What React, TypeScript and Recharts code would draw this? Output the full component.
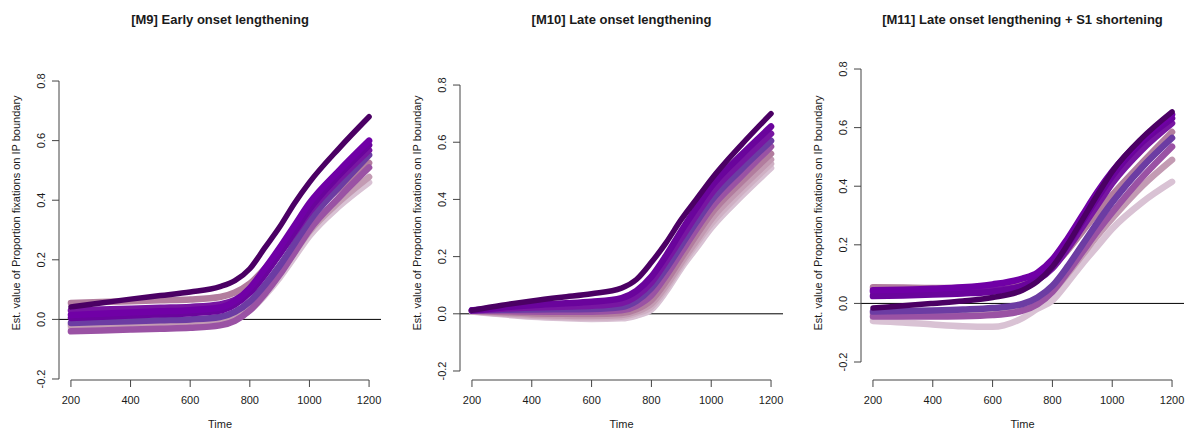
import React from "react";
import { LineChart, Line, XAxis, YAxis, ReferenceLine } from "recharts";

// ---------- data ----------
const TIMES = [200, 300, 400, 500, 600, 700, 750, 800, 850, 900, 950, 1000, 1100, 1200];
const X_TICKS = [200, 400, 600, 800, 1000, 1200];
const Y_TICKS = [-0.2, 0, 0.2, 0.4, 0.6, 0.8];

const TITLES = [
  "[M9] Early onset lengthening",
  "[M10] Late onset lengthening",
  "[M11] Late onset lengthening + S1 shortening",
];
const X_LABEL = "Time";
const Y_LABEL = "Est. value of Proportion fixations on IP boundary";

// palette (light -> dark)
const C_LIGHT = "#d9c2d4";
const C_PINK2 = "#cfb0c4";
const C_PINK = "#c39bb3";
const C_MAUVE = "#b27d9e";
const C_ORCHID = "#9a52a4";
const C_BLUEVIOLET = "#6c3ca3";
const C_VIOLET = "#7816a2";
const C_PURPLE = "#6a049c";
const C_BRIGHT = "#7000a6";
const C_DARK = "#4b0064";

// [M9]
const m9Light = [-0.028, -0.025, -0.022, -0.02, -0.018, -0.012, 0.002, 0.03, 0.08, 0.14, 0.21, 0.28, 0.38, 0.46];
const m9Pink = [-0.02, -0.017, -0.014, -0.011, -0.008, -0.002, 0.012, 0.045, 0.095, 0.155, 0.225, 0.295, 0.395, 0.478];
const m9Mauve = [0.055, 0.058, 0.061, 0.064, 0.067, 0.075, 0.09, 0.12, 0.17, 0.225, 0.29, 0.35, 0.44, 0.525];
const m9Orchid = [-0.04, -0.037, -0.034, -0.031, -0.028, -0.02, -0.005, 0.03, 0.085, 0.15, 0.225, 0.3, 0.41, 0.51];
const m9BlueViolet = [-0.012, -0.009, -0.006, -0.003, 0.0, 0.008, 0.025, 0.06, 0.115, 0.18, 0.255, 0.33, 0.445, 0.552];
const m9Violet = [0.03, 0.033, 0.036, 0.039, 0.042, 0.05, 0.065, 0.1, 0.155, 0.22, 0.29, 0.36, 0.47, 0.568];
const m9Purple = [0.005, 0.009, 0.013, 0.017, 0.021, 0.03, 0.05, 0.09, 0.15, 0.22, 0.295, 0.37, 0.485, 0.585];
const m9Bright = [0.015, 0.019, 0.023, 0.027, 0.031, 0.04, 0.062, 0.105, 0.17, 0.24, 0.315, 0.39, 0.5, 0.6];
const m9Dark = [0.042, 0.055, 0.068, 0.08, 0.092, 0.11, 0.13, 0.17, 0.24, 0.31, 0.39, 0.46, 0.575, 0.68];

// [M10]
const m10Light = [0.008, -0.002, -0.01, -0.015, -0.018, -0.016, -0.006, 0.015, 0.08, 0.16, 0.23, 0.3, 0.41, 0.51];
const m10Pink2 = [0.009, 0.0, -0.007, -0.011, -0.013, -0.01, 0.002, 0.025, 0.09, 0.17, 0.245, 0.315, 0.425, 0.525];
const m10Pink = [0.01, 0.003, -0.003, -0.006, -0.008, -0.004, 0.008, 0.035, 0.1, 0.18, 0.255, 0.33, 0.44, 0.54];
const m10Mauve = [0.011, 0.006, 0.002, 0.0, -0.001, 0.003, 0.016, 0.048, 0.115, 0.195, 0.275, 0.35, 0.46, 0.56];
const m10Orchid = [0.011, 0.01, 0.008, 0.007, 0.007, 0.012, 0.028, 0.065, 0.135, 0.215, 0.295, 0.37, 0.48, 0.585];
const m10BlueViolet = [0.012, 0.014, 0.015, 0.016, 0.017, 0.024, 0.045, 0.09, 0.16, 0.24, 0.32, 0.395, 0.505, 0.605];
const m10Violet = [0.012, 0.018, 0.022, 0.025, 0.028, 0.038, 0.062, 0.11, 0.185, 0.265, 0.345, 0.42, 0.53, 0.63];
const m10Purple = [0.012, 0.022, 0.03, 0.036, 0.042, 0.055, 0.08, 0.13, 0.205, 0.29, 0.37, 0.445, 0.555, 0.655];
const m10Dark = [0.012, 0.03, 0.045, 0.058, 0.07, 0.09, 0.12, 0.18, 0.25, 0.33, 0.4, 0.47, 0.59, 0.7];

// [M11]
const m11Light = [-0.06, -0.065, -0.072, -0.078, -0.08, -0.05, -0.018, 0.01, 0.07, 0.135, 0.195, 0.255, 0.345, 0.415];
const m11PinkMauve = [-0.035, -0.037, -0.038, -0.038, -0.035, -0.02, 0.0, 0.04, 0.1, 0.165, 0.23, 0.29, 0.4, 0.49];
const m11Orchid = [-0.045, -0.045, -0.045, -0.044, -0.04, -0.025, -0.003, 0.04, 0.105, 0.175, 0.245, 0.31, 0.43, 0.535];
const m11Mauve = [0.055, 0.054, 0.053, 0.053, 0.055, 0.07, 0.09, 0.125, 0.18, 0.245, 0.31, 0.37, 0.48, 0.585];
const m11BlueViolet = [-0.028, -0.026, -0.024, -0.021, -0.016, -0.002, 0.02, 0.06, 0.125, 0.2, 0.275, 0.345, 0.465, 0.565];
const m11Violet = [0.04, 0.04, 0.04, 0.041, 0.045, 0.06, 0.08, 0.12, 0.185, 0.26, 0.335, 0.41, 0.525, 0.615];
const m11Purple = [0.025, 0.027, 0.03, 0.034, 0.04, 0.06, 0.085, 0.13, 0.2, 0.28, 0.36, 0.435, 0.55, 0.632];
const m11Bright = [0.045, 0.047, 0.05, 0.055, 0.065, 0.085, 0.105, 0.15, 0.22, 0.3, 0.38, 0.45, 0.56, 0.645];
const m11Dark = [-0.016, -0.008, 0.0, 0.008, 0.02, 0.045, 0.075, 0.125, 0.2, 0.285, 0.37, 0.45, 0.565, 0.654];

const M9_SERIES = [m9Light, m9Pink, m9Mauve, m9Orchid, m9BlueViolet, m9Violet, m9Purple, m9Bright, m9Dark];
const M9_COLORS = [C_LIGHT, C_PINK, C_MAUVE, C_ORCHID, C_BLUEVIOLET, C_VIOLET, C_PURPLE, C_BRIGHT, C_DARK];
const M10_SERIES = [m10Light, m10Pink2, m10Pink, m10Mauve, m10Orchid, m10BlueViolet, m10Violet, m10Purple, m10Dark];
const M10_COLORS = [C_LIGHT, C_PINK2, C_PINK, C_MAUVE, C_ORCHID, C_BLUEVIOLET, C_VIOLET, C_PURPLE, C_DARK];
const M11_SERIES = [m11Light, m11PinkMauve, m11Orchid, m11Mauve, m11BlueViolet, m11Violet, m11Purple, m11Bright, m11Dark];
const M11_COLORS = [C_LIGHT, C_PINK, C_ORCHID, C_MAUVE, C_BLUEVIOLET, C_VIOLET, C_PURPLE, C_BRIGHT, C_DARK];

// ---------- layout ----------
const FONT = "'Liberation Sans', Arial, Helvetica, sans-serif";
const PANEL_W = 397;
const H = 432;
const AXIS_Y = 380; // pixel row of x axis
const X_AXIS_H = 40;
const Y_AXIS_W = 40;

type Geom = { left: number; xL: number; xR: number; top: number; yMin: number; yMax: number };
const GEOMS: Geom[] = [
  { left: 0, xL: 59, xR: 381, top: 69.1, yMin: -0.2034, yMax: 0.84 },
  { left: 397, xL: 63, xR: 386, top: 73.6, yMin: -0.2315, yMax: 0.84 },
  { left: 794, xL: 67, xR: 390, top: 57.3, yMin: -0.2614, yMax: 0.84 },
];

function buildRows(series: number[][]) {
  return TIMES.map((t, i) => {
    const row: Record<string, number> = { time: t };
    series.forEach((s, k) => {
      row["s" + k] = s[i];
    });
    return row;
  });
}

function Panel({ idx, series, colors }: { idx: number; series: number[][]; colors: string[] }) {
  const g = GEOMS[idx];
  const rows = buildRows(series);
  const axisColor = "#444";
  const centerX = g.xL + ((700 - 160) / (1240 - 160)) * (g.xR - g.xL);
  return (
    <div style={{ position: "absolute", left: g.left, top: 0, width: PANEL_W, height: H }}>
      <LineChart
        width={PANEL_W}
        height={H}
        data={rows}
        margin={{ top: g.top, right: PANEL_W - g.xR, bottom: H - AXIS_Y - X_AXIS_H, left: g.xL - Y_AXIS_W }}
      >
        <XAxis
          dataKey="time"
          type="number"
          domain={[160, 1240]}
          allowDataOverflow
          ticks={X_TICKS}
          interval={0}
          axisLine={false}
          tickSize={7}
          tickLine={{ stroke: axisColor }}
          height={X_AXIS_H}
          tick={(p: any) => (
            <text
              x={p.x}
              y={399.5}
              textAnchor="middle"
              dominantBaseline="central"
              fontFamily={FONT}
              fontSize={11}
              fill="#1a1a1a"
            >
              {p.payload.value}
            </text>
          )}
        />
        <YAxis
          type="number"
          domain={[g.yMin, g.yMax]}
          allowDataOverflow
          ticks={Y_TICKS}
          interval={0}
          axisLine={false}
          tickSize={7}
          tickLine={{ stroke: axisColor }}
          width={Y_AXIS_W}
          tick={(p: any) => {
            const cx = g.xL - 18;
            return (
              <text
                x={cx}
                y={p.y}
                transform={`rotate(-90, ${cx}, ${p.y})`}
                textAnchor="middle"
                dominantBaseline="central"
                fontFamily={FONT}
                fontSize={11}
                fill="#1a1a1a"
              >
                {p.payload.value.toFixed(1)}
              </text>
            );
          }}
        />
        <ReferenceLine y={0} stroke="#000" strokeWidth={1} />
        <ReferenceLine
          segment={[
            { x: 160, y: -0.2 },
            { x: 160, y: 0.8 },
          ]}
          stroke={axisColor}
          strokeWidth={1}
          ifOverflow="visible"
        />
        <ReferenceLine
          segment={[
            { x: 200, y: g.yMin },
            { x: 1200, y: g.yMin },
          ]}
          stroke={axisColor}
          strokeWidth={1}
          ifOverflow="visible"
        />
        {series.map((_, k) => (
          <Line
            key={k}
            dataKey={"s" + k}
            type="monotone"
            stroke={colors[k]}
            strokeWidth={k === series.length - 1 ? 5.5 : 6.5}
            strokeLinecap="round"
            strokeLinejoin="round"
            dot={false}
            activeDot={false}
            isAnimationActive={false}
          />
        ))}
      </LineChart>
      <div
        style={{
          position: "absolute",
          left: centerX - 200,
          width: 400,
          top: 12,
          textAlign: "center",
          fontFamily: FONT,
          fontWeight: "bold",
          fontSize: 13,
          color: "#1a1a1a",
          whiteSpace: "nowrap",
        }}
      >
        {TITLES[idx]}
      </div>
      <div
        style={{
          position: "absolute",
          left: centerX - 50,
          width: 100,
          top: 418,
          textAlign: "center",
          fontFamily: FONT,
          fontSize: 11,
          color: "#1a1a1a",
        }}
      >
        {X_LABEL}
      </div>
      <div
        style={{
          position: "absolute",
          left: g.xL - 43 - 150,
          top: 213 - 7,
          width: 300,
          height: 14,
          lineHeight: "14px",
          textAlign: "center",
          fontFamily: FONT,
          fontSize: 11,
          color: "#1a1a1a",
          transform: "rotate(-90deg)",
          whiteSpace: "nowrap",
        }}
      >
        {Y_LABEL}
      </div>
    </div>
  );
}

export default function App() {
  return (
    <div style={{ position: "absolute", left: 0, top: 0, width: 1191, height: H, background: "#fff", overflow: "hidden" }}>
      <Panel idx={0} series={M9_SERIES} colors={M9_COLORS} />
      <Panel idx={1} series={M10_SERIES} colors={M10_COLORS} />
      <Panel idx={2} series={M11_SERIES} colors={M11_COLORS} />
    </div>
  );
}
